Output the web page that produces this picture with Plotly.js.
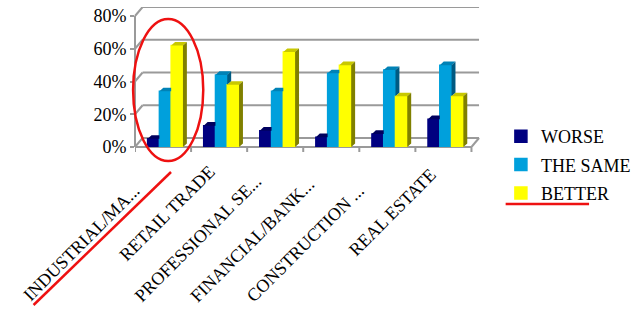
<!DOCTYPE html>
<html>
<head>
<meta charset="utf-8">
<script src="https://cdn.plot.ly/plotly-3.0.1.min.js"></script>
<style>html,body{margin:0;padding:0;background:#fff;}#chart{width:643px;height:309px;}</style>
</head>
<body>
<div id="chart"></div>
<script>
// ---- data ----
const categories = ["INDUSTRIAL/MA...", "RETAIL TRADE", "PROFESSIONAL SE...", "FINANCIAL/BANK...", "CONSTRUCTION ...", "REAL ESTATE"];
const worse  = [5, 13, 10, 6, 8, 17];
const same   = [34, 44, 34, 45, 47, 50];
const better = [62, 38, 58, 50, 31, 31];
const seriesNames = ["WORSE", "THE SAME", "BETTER"];
const yTickVals = [0, 20, 40, 60, 80];
const yTickText = ["0%", "20%", "40%", "60%", "80%"];

// ---- style / geometry ----
const FONT = "'Liberation Serif', 'DejaVu Serif', serif";
const front = ["#000080", "#00A0DC", "#FFFF00"];
const topC  = ["#00005E", "#0082B6", "#C8C800"];
const sideC = ["#000048", "#005A82", "#808000"];
const W = 0.21, GC = 0.04, DX = 0.07, DY = 2.2;     // bar width / group shift / bar depth
const WX = 0.135, WY = 5.5;                          // wall depth
const GRID = "#9a9a9a";
const L = 135, T = 7, PW = 365, PH = 140;
const px = p => (p - L) / PW, py = p => (T + PH - p) / PH;
const labelPad = [9, 3, 6, 7, 9, 4];                // trailing spacing of rotated labels
const pad = n => "\u00a0".repeat(n);

const vals = [worse, same, better];
const idx = categories.map((c, i) => i);
const traces = [];
// front faces
vals.forEach((v, k) => {
  traces.push({
    type: "bar", name: seriesNames[k], legendgroup: "g" + k,
    x: idx.map(i => i + GC + (k - 1) * W), y: v, width: W,
    marker: {color: front[k], line: {width: 1.5, color: front[k]}}, hoverinfo: "skip"
  });
});
// top and side faces
vals.forEach((v, k) => {
  const tx = [], ty = [], sx = [], sy = [];
  idx.forEach(i => {
    const val = v[i];
    const n = k < 2 ? vals[k + 1][i] : null;
    const c = i + GC + (k - 1) * W, x0 = c - W / 2, x1 = c + W / 2;
    if (n !== null && n > val) {
      tx.push(x0, x0 + DX, x1, x1, null); ty.push(val, val + DY, val + DY, val, null);
    } else {
      tx.push(x0, x0 + DX, x1 + DX, x1, null); ty.push(val, val + DY, val + DY, val, null);
    }
    const b = n !== null ? n : 0;
    if (val > b) {
      sx.push(x1, x1, x1 + DX, x1 + DX, null); sy.push(b, val, val + DY, b + DY, null);
    }
  });
  traces.push({type: "scatter", mode: "lines", x: tx, y: ty, fill: "toself", fillcolor: topC[k],
    line: {width: 0}, showlegend: false, hoverinfo: "skip"});
  traces.push({type: "scatter", mode: "lines", x: sx, y: sy, fill: "toself", fillcolor: sideC[k],
    line: {width: 0}, showlegend: false, hoverinfo: "skip"});
});

const shapes = [];
const xl = -0.5, xr = categories.length - 0.5;
yTickVals.forEach(v => {
  shapes.push({type: "line", xref: "x", yref: "y", x0: xl + WX, x1: xr + WX, y0: v + WY, y1: v + WY,
    line: {color: GRID, width: 2}, layer: "below"});
  shapes.push({type: "line", xref: "paper", yref: "y", x0: 0, x1: 8 / PW, y0: v, y1: v + WY,
    line: {color: GRID, width: 2}, layer: "below"});
});
// y axis line
shapes.push({type: "line", xref: "paper", yref: "y", x0: 0, x1: 0, y0: 0, y1: 80, line: {color: GRID, width: 2}, layer: "below"});
// floor front line and right edge
shapes.push({type: "line", xref: "x", yref: "paper", x0: xl, x1: xr, y0: 0, y1: 0, line: {color: GRID, width: 2}, layer: "below"});
shapes.push({type: "line", xref: "x", yref: "y", x0: xr, x1: xr + WX, y0: 0, y1: WY, line: {color: GRID, width: 2}, layer: "below"});
// x ticks at category boundaries
for (let b = 0; b <= categories.length; b++) {
  shapes.push({type: "line", xref: "x", yref: "paper", x0: xl + b, x1: xl + b, y0: 0, y1: -5 / PH,
    line: {color: GRID, width: 2}});
}
// red annotations
const RED = "#EE1111";
shapes.push({type: "circle", xref: "paper", yref: "paper", x0: px(133), x1: px(207), y0: py(161), y1: py(19),
  line: {color: RED, width: 2.5}});
shapes.push({type: "line", xref: "paper", yref: "paper", x0: px(28), y0: py(305), x1: px(173), y1: py(172),
  line: {color: RED, width: 2.5}});
shapes.push({type: "line", xref: "paper", yref: "paper", x0: px(526), y0: py(204), x1: px(614), y1: py(204),
  line: {color: RED, width: 2.5}});

const layout = {
  width: 643, height: 309,
  margin: {l: L, r: 643 - L - PW, t: T, b: 309 - T - PH},
  paper_bgcolor: "#ffffff", plot_bgcolor: "rgba(0,0,0,0)",
  barmode: "overlay", showlegend: true,
  font: {family: FONT, color: "#000", size: 18},
  xaxis: {range: [xl, xr + 0.17], tickvals: idx, ticktext: categories.map((c, i) => c + pad(labelPad[i])),
    tickangle: -45, showgrid: false, zeroline: false, showline: false, ticks: "",
    tickfont: {size: 18, family: FONT, color: "#000"}, fixedrange: true},
  yaxis: {range: [0, 80 + WY], tickvals: yTickVals, ticktext: yTickText, showgrid: false, zeroline: false,
    showline: false, ticks: "outside", ticklen: 4, tickwidth: 2, tickcolor: GRID,
    tickfont: {size: 18, family: FONT, color: "#000"}, fixedrange: true},
  legend: {x: px(521), xanchor: "left", y: py(118), yanchor: "top", tracegroupgap: 2,
    font: {size: 18, family: FONT, color: "#000"}, bgcolor: "rgba(0,0,0,0)"},
  shapes: shapes
};
Plotly.newPlot("chart", traces, layout, {staticPlot: true, displayModeBar: false});
</script>
</body>
</html>
